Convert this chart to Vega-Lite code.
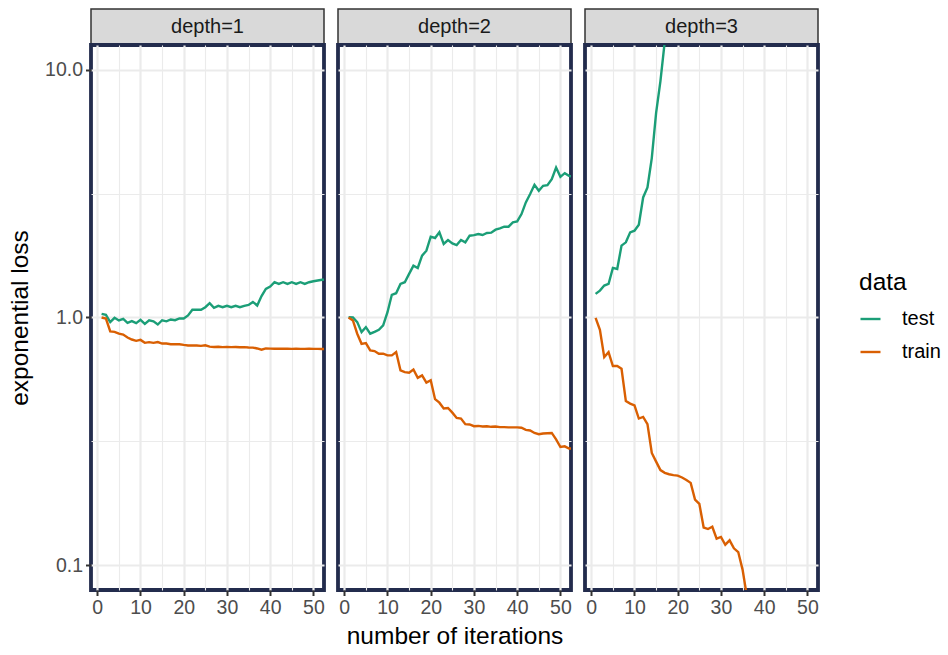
{
 "$schema": "https://vega.github.io/schema/vega-lite/v6.json",
 "padding": {"left": 5, "top": 8, "right": 0, "bottom": 0},
 "background": "white",
 "config": {
  "font": "Liberation Sans",
  "view": {"stroke": "#232c4d", "strokeWidth": 3.8, "fill": "white"},
  "axis": {"domain": false, "gridColor": "#ebebeb", "tickColor": "#333333", "tickWidth": 2, "tickSize": 5.5, "labelFontSize": 19.5, "labelColor": "#4d4d4d", "labelPadding": 3, "titleFontSize": 24.5, "titleFontWeight": "normal", "titleColor": "#000000", "labelFlush": false, "labelOverlap": false}
 },
 "datasets": {
  "strips": [{"depth": 1, "strip": "depth=1"}, {"depth": 2, "strip": "depth=2"}, {"depth": 3, "strip": "depth=3"}],
  "loss": [
   {"depth":1,"data":"test","iter":1,"loss":1.035},{"depth":1,"data":"test","iter":2,"loss":1.025},{"depth":1,"data":"test","iter":3,"loss":0.958},{"depth":1,"data":"test","iter":4,"loss":0.997},{"depth":1,"data":"test","iter":5,"loss":0.973},{"depth":1,"data":"test","iter":6,"loss":0.988},{"depth":1,"data":"test","iter":7,"loss":0.952},{"depth":1,"data":"test","iter":8,"loss":0.967},{"depth":1,"data":"test","iter":9,"loss":0.949},{"depth":1,"data":"test","iter":10,"loss":0.979},{"depth":1,"data":"test","iter":11,"loss":0.943},{"depth":1,"data":"test","iter":12,"loss":0.975},{"depth":1,"data":"test","iter":13,"loss":0.965},{"depth":1,"data":"test","iter":14,"loss":0.937},{"depth":1,"data":"test","iter":15,"loss":0.975},{"depth":1,"data":"test","iter":16,"loss":0.965},{"depth":1,"data":"test","iter":17,"loss":0.982},{"depth":1,"data":"test","iter":18,"loss":0.975},{"depth":1,"data":"test","iter":19,"loss":0.991},{"depth":1,"data":"test","iter":20,"loss":0.991},{"depth":1,"data":"test","iter":21,"loss":1.019},{"depth":1,"data":"test","iter":22,"loss":1.074},{"depth":1,"data":"test","iter":23,"loss":1.074},{"depth":1,"data":"test","iter":24,"loss":1.074},{"depth":1,"data":"test","iter":25,"loss":1.1},{"depth":1,"data":"test","iter":26,"loss":1.142},{"depth":1,"data":"test","iter":27,"loss":1.094},{"depth":1,"data":"test","iter":28,"loss":1.114},{"depth":1,"data":"test","iter":29,"loss":1.1},{"depth":1,"data":"test","iter":30,"loss":1.114},{"depth":1,"data":"test","iter":31,"loss":1.1},{"depth":1,"data":"test","iter":32,"loss":1.114},{"depth":1,"data":"test","iter":33,"loss":1.1},{"depth":1,"data":"test","iter":34,"loss":1.114},{"depth":1,"data":"test","iter":35,"loss":1.124},{"depth":1,"data":"test","iter":36,"loss":1.156},{"depth":1,"data":"test","iter":37,"loss":1.118},{"depth":1,"data":"test","iter":38,"loss":1.22},{"depth":1,"data":"test","iter":39,"loss":1.305},{"depth":1,"data":"test","iter":40,"loss":1.333},{"depth":1,"data":"test","iter":41,"loss":1.388},{"depth":1,"data":"test","iter":42,"loss":1.366},{"depth":1,"data":"test","iter":43,"loss":1.388},{"depth":1,"data":"test","iter":44,"loss":1.366},{"depth":1,"data":"test","iter":45,"loss":1.388},{"depth":1,"data":"test","iter":46,"loss":1.366},{"depth":1,"data":"test","iter":47,"loss":1.388},{"depth":1,"data":"test","iter":48,"loss":1.366},{"depth":1,"data":"test","iter":49,"loss":1.388},{"depth":1,"data":"test","iter":50,"loss":1.4},{"depth":1,"data":"test","iter":51,"loss":1.41},{"depth":1,"data":"test","iter":52,"loss":1.42},{"depth":1,"data":"test","iter":53,"loss":1.42},
   {"depth":1,"data":"train","iter":1,"loss":1.0},{"depth":1,"data":"train","iter":2,"loss":0.99},{"depth":1,"data":"train","iter":3,"loss":0.878},{"depth":1,"data":"train","iter":4,"loss":0.875},{"depth":1,"data":"train","iter":5,"loss":0.86},{"depth":1,"data":"train","iter":6,"loss":0.853},{"depth":1,"data":"train","iter":7,"loss":0.83},{"depth":1,"data":"train","iter":8,"loss":0.815},{"depth":1,"data":"train","iter":9,"loss":0.805},{"depth":1,"data":"train","iter":10,"loss":0.812},{"depth":1,"data":"train","iter":11,"loss":0.79},{"depth":1,"data":"train","iter":12,"loss":0.795},{"depth":1,"data":"train","iter":13,"loss":0.79},{"depth":1,"data":"train","iter":14,"loss":0.796},{"depth":1,"data":"train","iter":15,"loss":0.785},{"depth":1,"data":"train","iter":16,"loss":0.785},{"depth":1,"data":"train","iter":17,"loss":0.78},{"depth":1,"data":"train","iter":18,"loss":0.78},{"depth":1,"data":"train","iter":19,"loss":0.78},{"depth":1,"data":"train","iter":20,"loss":0.775},{"depth":1,"data":"train","iter":21,"loss":0.771},{"depth":1,"data":"train","iter":22,"loss":0.771},{"depth":1,"data":"train","iter":23,"loss":0.771},{"depth":1,"data":"train","iter":24,"loss":0.768},{"depth":1,"data":"train","iter":25,"loss":0.772},{"depth":1,"data":"train","iter":26,"loss":0.763},{"depth":1,"data":"train","iter":27,"loss":0.76},{"depth":1,"data":"train","iter":28,"loss":0.762},{"depth":1,"data":"train","iter":29,"loss":0.759},{"depth":1,"data":"train","iter":30,"loss":0.76},{"depth":1,"data":"train","iter":31,"loss":0.759},{"depth":1,"data":"train","iter":32,"loss":0.76},{"depth":1,"data":"train","iter":33,"loss":0.758},{"depth":1,"data":"train","iter":34,"loss":0.759},{"depth":1,"data":"train","iter":35,"loss":0.757},{"depth":1,"data":"train","iter":36,"loss":0.756},{"depth":1,"data":"train","iter":37,"loss":0.75},{"depth":1,"data":"train","iter":38,"loss":0.741},{"depth":1,"data":"train","iter":39,"loss":0.75},{"depth":1,"data":"train","iter":40,"loss":0.749},{"depth":1,"data":"train","iter":41,"loss":0.748},{"depth":1,"data":"train","iter":42,"loss":0.748},{"depth":1,"data":"train","iter":43,"loss":0.749},{"depth":1,"data":"train","iter":44,"loss":0.748},{"depth":1,"data":"train","iter":45,"loss":0.747},{"depth":1,"data":"train","iter":46,"loss":0.748},{"depth":1,"data":"train","iter":47,"loss":0.747},{"depth":1,"data":"train","iter":48,"loss":0.747},{"depth":1,"data":"train","iter":49,"loss":0.748},{"depth":1,"data":"train","iter":50,"loss":0.747},{"depth":1,"data":"train","iter":51,"loss":0.747},{"depth":1,"data":"train","iter":52,"loss":0.746},{"depth":1,"data":"train","iter":53,"loss":0.746},
   {"depth":2,"data":"test","iter":1,"loss":1.003},{"depth":2,"data":"test","iter":2,"loss":1.0},{"depth":2,"data":"test","iter":3,"loss":0.958},{"depth":2,"data":"test","iter":4,"loss":0.873},{"depth":2,"data":"test","iter":5,"loss":0.914},{"depth":2,"data":"test","iter":6,"loss":0.86},{"depth":2,"data":"test","iter":7,"loss":0.875},{"depth":2,"data":"test","iter":8,"loss":0.892},{"depth":2,"data":"test","iter":9,"loss":0.929},{"depth":2,"data":"test","iter":10,"loss":1.05},{"depth":2,"data":"test","iter":11,"loss":1.235},{"depth":2,"data":"test","iter":12,"loss":1.253},{"depth":2,"data":"test","iter":13,"loss":1.366},{"depth":2,"data":"test","iter":14,"loss":1.388},{"depth":2,"data":"test","iter":15,"loss":1.5},{"depth":2,"data":"test","iter":16,"loss":1.62},{"depth":2,"data":"test","iter":17,"loss":1.585},{"depth":2,"data":"test","iter":18,"loss":1.777},{"depth":2,"data":"test","iter":19,"loss":1.861},{"depth":2,"data":"test","iter":20,"loss":2.12},{"depth":2,"data":"test","iter":21,"loss":2.094},{"depth":2,"data":"test","iter":22,"loss":2.207},{"depth":2,"data":"test","iter":23,"loss":1.98},{"depth":2,"data":"test","iter":24,"loss":2.055},{"depth":2,"data":"test","iter":25,"loss":1.992},{"depth":2,"data":"test","iter":26,"loss":1.961},{"depth":2,"data":"test","iter":27,"loss":2.055},{"depth":2,"data":"test","iter":28,"loss":2.011},{"depth":2,"data":"test","iter":29,"loss":2.139},{"depth":2,"data":"test","iter":30,"loss":2.15},{"depth":2,"data":"test","iter":31,"loss":2.173},{"depth":2,"data":"test","iter":32,"loss":2.153},{"depth":2,"data":"test","iter":33,"loss":2.193},{"depth":2,"data":"test","iter":34,"loss":2.2},{"depth":2,"data":"test","iter":35,"loss":2.262},{"depth":2,"data":"test","iter":36,"loss":2.29},{"depth":2,"data":"test","iter":37,"loss":2.326},{"depth":2,"data":"test","iter":38,"loss":2.326},{"depth":2,"data":"test","iter":39,"loss":2.421},{"depth":2,"data":"test","iter":40,"loss":2.443},{"depth":2,"data":"test","iter":41,"loss":2.615},{"depth":2,"data":"test","iter":42,"loss":2.914},{"depth":2,"data":"test","iter":43,"loss":3.15},{"depth":2,"data":"test","iter":44,"loss":3.433},{"depth":2,"data":"test","iter":45,"loss":3.247},{"depth":2,"data":"test","iter":46,"loss":3.401},{"depth":2,"data":"test","iter":47,"loss":3.422},{"depth":2,"data":"test","iter":48,"loss":3.617},{"depth":2,"data":"test","iter":49,"loss":4.031},{"depth":2,"data":"test","iter":50,"loss":3.697},{"depth":2,"data":"test","iter":51,"loss":3.825},{"depth":2,"data":"test","iter":52,"loss":3.732},{"depth":2,"data":"test","iter":53,"loss":3.7},
   {"depth":2,"data":"train","iter":1,"loss":1.0},{"depth":2,"data":"train","iter":2,"loss":0.973},{"depth":2,"data":"train","iter":3,"loss":0.86},{"depth":2,"data":"train","iter":4,"loss":0.783},{"depth":2,"data":"train","iter":5,"loss":0.788},{"depth":2,"data":"train","iter":6,"loss":0.736},{"depth":2,"data":"train","iter":7,"loss":0.732},{"depth":2,"data":"train","iter":8,"loss":0.714},{"depth":2,"data":"train","iter":9,"loss":0.714},{"depth":2,"data":"train","iter":10,"loss":0.703},{"depth":2,"data":"train","iter":11,"loss":0.703},{"depth":2,"data":"train","iter":12,"loss":0.725},{"depth":2,"data":"train","iter":13,"loss":0.612},{"depth":2,"data":"train","iter":14,"loss":0.602},{"depth":2,"data":"train","iter":15,"loss":0.599},{"depth":2,"data":"train","iter":16,"loss":0.617},{"depth":2,"data":"train","iter":17,"loss":0.571},{"depth":2,"data":"train","iter":18,"loss":0.584},{"depth":2,"data":"train","iter":19,"loss":0.546},{"depth":2,"data":"train","iter":20,"loss":0.558},{"depth":2,"data":"train","iter":21,"loss":0.468},{"depth":2,"data":"train","iter":22,"loss":0.453},{"depth":2,"data":"train","iter":23,"loss":0.429},{"depth":2,"data":"train","iter":24,"loss":0.431},{"depth":2,"data":"train","iter":25,"loss":0.413},{"depth":2,"data":"train","iter":26,"loss":0.393},{"depth":2,"data":"train","iter":27,"loss":0.391},{"depth":2,"data":"train","iter":28,"loss":0.371},{"depth":2,"data":"train","iter":29,"loss":0.37},{"depth":2,"data":"train","iter":30,"loss":0.364},{"depth":2,"data":"train","iter":31,"loss":0.365},{"depth":2,"data":"train","iter":32,"loss":0.363},{"depth":2,"data":"train","iter":33,"loss":0.364},{"depth":2,"data":"train","iter":34,"loss":0.362},{"depth":2,"data":"train","iter":35,"loss":0.363},{"depth":2,"data":"train","iter":36,"loss":0.361},{"depth":2,"data":"train","iter":37,"loss":0.361},{"depth":2,"data":"train","iter":38,"loss":0.36},{"depth":2,"data":"train","iter":39,"loss":0.36},{"depth":2,"data":"train","iter":40,"loss":0.36},{"depth":2,"data":"train","iter":41,"loss":0.359},{"depth":2,"data":"train","iter":42,"loss":0.352},{"depth":2,"data":"train","iter":43,"loss":0.35},{"depth":2,"data":"train","iter":44,"loss":0.342},{"depth":2,"data":"train","iter":45,"loss":0.338},{"depth":2,"data":"train","iter":46,"loss":0.34},{"depth":2,"data":"train","iter":47,"loss":0.341},{"depth":2,"data":"train","iter":48,"loss":0.342},{"depth":2,"data":"train","iter":49,"loss":0.322},{"depth":2,"data":"train","iter":50,"loss":0.3},{"depth":2,"data":"train","iter":51,"loss":0.302},{"depth":2,"data":"train","iter":52,"loss":0.296},{"depth":2,"data":"train","iter":53,"loss":0.296},
   {"depth":3,"data":"test","iter":1,"loss":1.245},{"depth":3,"data":"test","iter":2,"loss":1.284},{"depth":3,"data":"test","iter":3,"loss":1.346},{"depth":3,"data":"test","iter":4,"loss":1.366},{"depth":3,"data":"test","iter":5,"loss":1.585},{"depth":3,"data":"test","iter":6,"loss":1.57},{"depth":3,"data":"test","iter":7,"loss":1.95},{"depth":3,"data":"test","iter":8,"loss":2.011},{"depth":3,"data":"test","iter":9,"loss":2.207},{"depth":3,"data":"test","iter":10,"loss":2.24},{"depth":3,"data":"test","iter":11,"loss":2.369},{"depth":3,"data":"test","iter":12,"loss":3.052},{"depth":3,"data":"test","iter":13,"loss":3.349},{"depth":3,"data":"test","iter":14,"loss":4.4},{"depth":3,"data":"test","iter":15,"loss":6.7},{"depth":3,"data":"test","iter":16,"loss":9.0},{"depth":3,"data":"test","iter":17,"loss":13.0},{"depth":3,"data":"test","iter":18,"loss":18.0},
   {"depth":3,"data":"train","iter":1,"loss":0.997},{"depth":3,"data":"train","iter":2,"loss":0.892},{"depth":3,"data":"train","iter":3,"loss":0.692},{"depth":3,"data":"train","iter":4,"loss":0.725},{"depth":3,"data":"train","iter":5,"loss":0.637},{"depth":3,"data":"train","iter":6,"loss":0.637},{"depth":3,"data":"train","iter":7,"loss":0.621},{"depth":3,"data":"train","iter":8,"loss":0.46},{"depth":3,"data":"train","iter":9,"loss":0.449},{"depth":3,"data":"train","iter":10,"loss":0.442},{"depth":3,"data":"train","iter":11,"loss":0.391},{"depth":3,"data":"train","iter":12,"loss":0.397},{"depth":3,"data":"train","iter":13,"loss":0.371},{"depth":3,"data":"train","iter":14,"loss":0.284},{"depth":3,"data":"train","iter":15,"loss":0.262},{"depth":3,"data":"train","iter":16,"loss":0.242},{"depth":3,"data":"train","iter":17,"loss":0.236},{"depth":3,"data":"train","iter":18,"loss":0.233},{"depth":3,"data":"train","iter":19,"loss":0.231},{"depth":3,"data":"train","iter":20,"loss":0.23},{"depth":3,"data":"train","iter":21,"loss":0.226},{"depth":3,"data":"train","iter":22,"loss":0.221},{"depth":3,"data":"train","iter":23,"loss":0.215},{"depth":3,"data":"train","iter":24,"loss":0.184},{"depth":3,"data":"train","iter":25,"loss":0.177},{"depth":3,"data":"train","iter":26,"loss":0.142},{"depth":3,"data":"train","iter":27,"loss":0.14},{"depth":3,"data":"train","iter":28,"loss":0.143},{"depth":3,"data":"train","iter":29,"loss":0.128},{"depth":3,"data":"train","iter":30,"loss":0.13},{"depth":3,"data":"train","iter":31,"loss":0.121},{"depth":3,"data":"train","iter":32,"loss":0.126},{"depth":3,"data":"train","iter":33,"loss":0.117},{"depth":3,"data":"train","iter":34,"loss":0.113},{"depth":3,"data":"train","iter":35,"loss":0.096},{"depth":3,"data":"train","iter":36,"loss":0.075},{"depth":3,"data":"train","iter":37,"loss":0.06}
  ]
 },
 "spacing": 9,
 "hconcat": [
  {"spacing": -4.2, "vconcat": [
   {"data": {"name": "strips"}, "transform": [{"filter": "datum.depth == 1"}], "width": 233, "height": 35,
    "view": {"fill": "#d9d9d9", "stroke": "#333333", "strokeWidth": 1.5},
    "mark": {"type": "text", "fontSize": 20, "color": "#1a1a1a", "baseline": "middle", "align": "center"},
    "encoding": {"text": {"field": "strip", "type": "nominal"}}},
   {"data": {"name": "loss"}, "transform": [{"filter": "datum.depth == 1"}], "width": 233, "height": 545,
    "layer": [
     {"mark": {"type": "point", "opacity": 0, "clip": true},
      "encoding": {
       "x": {"field": "iter", "type": "quantitative", "scale": {"domain": [-1.45, 52.45], "nice": false, "zero": false}, "axis": {"orient": "top", "values": [5, 15, 25, 35, 45], "grid": true, "gridWidth": 1.1, "labels": false, "ticks": false, "title": null}},
       "y": {"field": "loss", "type": "quantitative", "scale": {"type": "log", "domain": [0.07943, 12.589], "nice": false}, "axis": {"orient": "right", "values": [0.3162, 3.162], "grid": true, "gridWidth": 1.1, "labels": false, "ticks": false, "title": null}}}},
     {"mark": {"type": "line", "strokeWidth": 2.4, "clip": true},
      "encoding": {
       "x": {"field": "iter", "type": "quantitative", "scale": {"domain": [-1.45, 52.45], "nice": false, "zero": false}, "axis": {"orient": "bottom", "values": [0, 10, 20, 30, 40, 50], "grid": true, "gridWidth": 2.2, "title": null}},
       "y": {"field": "loss", "type": "quantitative", "scale": {"type": "log", "domain": [0.07943, 12.589], "nice": false}, "axis": {"orient": "left", "values": [0.1, 1, 10], "format": ".1f", "grid": true, "gridWidth": 2.2, "title": "exponential loss", "titlePadding": 12}},
       "color": {"field": "data", "type": "nominal", "scale": {"domain": ["test", "train"], "range": ["#1b9e77", "#d95f02"]},
        "legend": {"title": "data", "orient": "none", "legendX": 768, "legendY": 262, "titleFontSize": 24.5, "titleFontWeight": "normal", "titleColor": "#000000", "labelFontSize": 20, "labelColor": "#000000", "symbolType": "stroke", "symbolStrokeWidth": 2.4, "symbolSize": 400, "rowPadding": 11, "labelOffset": 20, "titlePadding": 12}}}}
    ],
    "resolve": {"axis": {"x": "independent", "y": "independent"}}}
  ]},
  {"spacing": -4.2, "vconcat": [
   {"data": {"name": "strips"}, "transform": [{"filter": "datum.depth == 2"}], "width": 233, "height": 35,
    "view": {"fill": "#d9d9d9", "stroke": "#333333", "strokeWidth": 1.5},
    "mark": {"type": "text", "fontSize": 20, "color": "#1a1a1a", "baseline": "middle", "align": "center"},
    "encoding": {"text": {"field": "strip", "type": "nominal"}}},
   {"data": {"name": "loss"}, "transform": [{"filter": "datum.depth == 2"}], "width": 233, "height": 545,
    "layer": [
     {"mark": {"type": "point", "opacity": 0, "clip": true},
      "encoding": {
       "x": {"field": "iter", "type": "quantitative", "scale": {"domain": [-1.45, 52.45], "nice": false, "zero": false}, "axis": {"orient": "top", "values": [5, 15, 25, 35, 45], "grid": true, "gridWidth": 1.1, "labels": false, "ticks": false, "title": null}},
       "y": {"field": "loss", "type": "quantitative", "scale": {"type": "log", "domain": [0.07943, 12.589], "nice": false}, "axis": {"orient": "right", "values": [0.3162, 3.162], "grid": true, "gridWidth": 1.1, "labels": false, "ticks": false, "title": null}}}},
     {"mark": {"type": "line", "strokeWidth": 2.4, "clip": true},
      "encoding": {
       "x": {"field": "iter", "type": "quantitative", "scale": {"domain": [-1.45, 52.45], "nice": false, "zero": false}, "axis": {"orient": "bottom", "values": [0, 10, 20, 30, 40, 50], "grid": true, "gridWidth": 2.2, "title": "number of iterations", "titlePadding": 7}},
       "y": {"field": "loss", "type": "quantitative", "scale": {"type": "log", "domain": [0.07943, 12.589], "nice": false}, "axis": {"orient": "left", "values": [0.1, 1, 10], "grid": true, "gridWidth": 2.2, "labels": false, "ticks": false, "title": null}},
       "color": {"field": "data", "type": "nominal", "scale": {"domain": ["test", "train"], "range": ["#1b9e77", "#d95f02"]},
        "legend": {"title": "data", "orient": "none", "legendX": 768, "legendY": 262, "titleFontSize": 24.5, "titleFontWeight": "normal", "titleColor": "#000000", "labelFontSize": 20, "labelColor": "#000000", "symbolType": "stroke", "symbolStrokeWidth": 2.4, "symbolSize": 400, "rowPadding": 11, "labelOffset": 20, "titlePadding": 12}}}}
    ],
    "resolve": {"axis": {"x": "independent", "y": "independent"}}}
  ]},
  {"spacing": -4.2, "vconcat": [
   {"data": {"name": "strips"}, "transform": [{"filter": "datum.depth == 3"}], "width": 233, "height": 35,
    "view": {"fill": "#d9d9d9", "stroke": "#333333", "strokeWidth": 1.5},
    "mark": {"type": "text", "fontSize": 20, "color": "#1a1a1a", "baseline": "middle", "align": "center"},
    "encoding": {"text": {"field": "strip", "type": "nominal"}}},
   {"data": {"name": "loss"}, "transform": [{"filter": "datum.depth == 3"}], "width": 233, "height": 545,
    "layer": [
     {"mark": {"type": "point", "opacity": 0, "clip": true},
      "encoding": {
       "x": {"field": "iter", "type": "quantitative", "scale": {"domain": [-1.45, 52.45], "nice": false, "zero": false}, "axis": {"orient": "top", "values": [5, 15, 25, 35, 45], "grid": true, "gridWidth": 1.1, "labels": false, "ticks": false, "title": null}},
       "y": {"field": "loss", "type": "quantitative", "scale": {"type": "log", "domain": [0.07943, 12.589], "nice": false}, "axis": {"orient": "right", "values": [0.3162, 3.162], "grid": true, "gridWidth": 1.1, "labels": false, "ticks": false, "title": null}}}},
     {"mark": {"type": "line", "strokeWidth": 2.4, "clip": true},
      "encoding": {
       "x": {"field": "iter", "type": "quantitative", "scale": {"domain": [-1.45, 52.45], "nice": false, "zero": false}, "axis": {"orient": "bottom", "values": [0, 10, 20, 30, 40, 50], "grid": true, "gridWidth": 2.2, "title": null}},
       "y": {"field": "loss", "type": "quantitative", "scale": {"type": "log", "domain": [0.07943, 12.589], "nice": false}, "axis": {"orient": "left", "values": [0.1, 1, 10], "grid": true, "gridWidth": 2.2, "labels": false, "ticks": false, "title": null}},
       "color": {"field": "data", "type": "nominal", "scale": {"domain": ["test", "train"], "range": ["#1b9e77", "#d95f02"]},
        "legend": {"title": "data", "orient": "none", "legendX": 768, "legendY": 262, "titleFontSize": 24.5, "titleFontWeight": "normal", "titleColor": "#000000", "labelFontSize": 20, "labelColor": "#000000", "symbolType": "stroke", "symbolStrokeWidth": 2.4, "symbolSize": 400, "rowPadding": 11, "labelOffset": 20, "titlePadding": 12}}}}
    ],
    "resolve": {"axis": {"x": "independent", "y": "independent"}}}
  ]}
 ]
}
